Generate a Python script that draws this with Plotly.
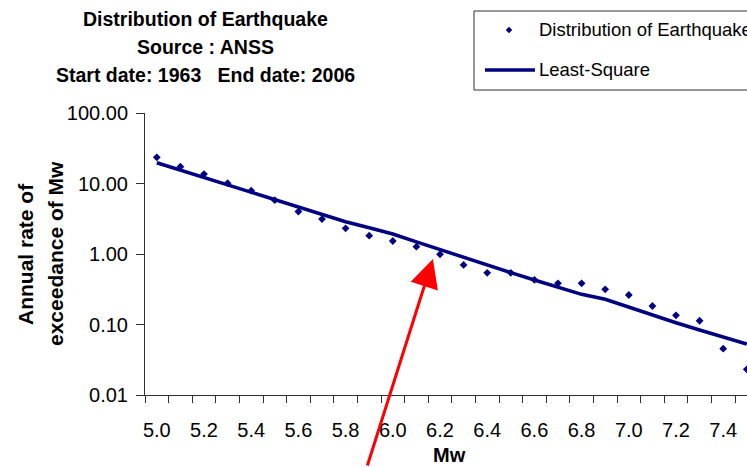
import math
import plotly.graph_objects as go

# ---- data ----
mw = [5.0, 5.1, 5.2, 5.3, 5.4, 5.5, 5.6, 5.7, 5.8, 5.9, 6.0, 6.1, 6.2,
      6.3, 6.4, 6.5, 6.6, 6.7, 6.8, 6.9, 7.0, 7.1, 7.2, 7.3, 7.4, 7.5]
rate_observed = [23.5, 17.3, 13.6, 10.1, 7.9, 5.8, 4.0, 3.13, 2.31, 1.82, 1.53, 1.27, 0.99,
                 0.70, 0.54, 0.54, 0.43, 0.384, 0.384, 0.315, 0.262, 0.183, 0.135, 0.113,
                 0.0454, 0.0231]
rate_least_square = [19.7, 15.5, 12.2, 9.5, 7.5, 5.8, 4.6, 3.65, 2.87, 2.36, 1.92, 1.49, 1.15,
                     0.898, 0.698, 0.543, 0.428, 0.337, 0.268, 0.228, 0.175, 0.136, 0.106,
                     0.0836, 0.0658, 0.0528]
y_tick_values = [0.01, 0.1, 1, 10, 100]
y_tick_labels = ["0.01", "0.10", "1.00", "10.00", "100.00"]
x_tick_values = mw[::2]
x_tick_labels = ["%.1f" % v for v in x_tick_values]
title_lines = ["Distribution of Earthquake", "Source : ANSS", "Start date: 1963   End date: 2006"]
legend_names = ["Distribution of Earthquake", "Least-Square"]
y_title_lines = ["Annual rate of", "exceedance of Mw"]
x_title = "Mw"

# ---- layout geometry (pixels) ----
W, H = 747, 467
L, R, T, B = 145, 747, 113, 395
step = 0.1
xr = [mw[0] - step / 2, mw[0] - step / 2 + (R - L) / 236.0]

def px(x):
    return (x - L) / (R - L)

def py(y):
    return (B - y) / (B - T)

NAVY = "#000080"
FONT = "Liberation Sans, Arial, sans-serif"

fig = go.Figure()
fig.add_trace(go.Scatter(x=mw, y=rate_least_square, mode="lines", name=legend_names[1],
                         line=dict(color=NAVY, width=3.5), showlegend=False))
fig.add_trace(go.Scatter(x=mw, y=rate_observed, mode="markers", name=legend_names[0],
                         marker=dict(symbol="diamond", size=6, color=NAVY), showlegend=False))

minor_vals = [v - step / 2 for v in mw] + [mw[-1] + step / 2]

fig.update_layout(
    width=W, height=H,
    margin=dict(l=L, r=W - R, t=T, b=H - B, autoexpand=False),
    paper_bgcolor="white", plot_bgcolor="white",
    font=dict(family=FONT, color="black", size=20),
    showlegend=False,
    xaxis=dict(range=xr, showgrid=False, zeroline=False, showline=True, linecolor="#303030",
               linewidth=1, tickmode="array", tickvals=x_tick_values, ticktext=x_tick_labels,
               ticks="", tickfont=dict(size=20), ticklabelstandoff=17,
               minor=dict(tickmode="array", tickvals=minor_vals, ticks="outside", ticklen=7,
                          tickcolor="#303030", showgrid=False)),
    yaxis=dict(type="log", range=[-2, 2], showgrid=False, zeroline=False, showline=True,
               linecolor="#303030", linewidth=1, tickmode="array", tickvals=y_tick_values,
               ticktext=y_tick_labels, ticks="outside", ticklen=8, tickcolor="#303030",
               tickfont=dict(size=20), ticklabelstandoff=4),
)

ann = []
# title lines
for txt, yc in zip(title_lines, [19.0, 47.0, 75.0]):
    ann.append(dict(text="<b>%s</b>" % txt, xref="paper", yref="paper", x=px(205), y=py(yc),
                    xanchor="center", yanchor="middle", showarrow=False,
                    font=dict(size=19.5, family=FONT)))
# y-axis title (two rotated lines)
for txt, xc in zip(y_title_lines, [25, 55]):
    ann.append(dict(text="<b>%s</b>" % txt, xref="paper", yref="paper", x=px(xc), y=py(254),
                    xanchor="center", yanchor="middle", textangle=-90, showarrow=False,
                    font=dict(size=21, family=FONT)))
# x-axis title
ann.append(dict(text="<b>%s</b>" % x_title, xref="paper", yref="paper", x=px(449), y=py(455),
                xanchor="center", yanchor="middle", showarrow=False,
                font=dict(size=20, family=FONT)))
# legend texts
for txt, yc in zip(legend_names, [30, 70]):
    ann.append(dict(text=txt, xref="paper", yref="paper", x=px(537), y=py(yc),
                    xanchor="left", yanchor="middle", showarrow=False,
                    font=dict(size=18.5, family=FONT)))
# red arrow
ann.append(dict(text="", x=6.17, y=math.log10(0.85), xref="x", yref="y",
                showarrow=True, arrowhead=2, arrowsize=1.9, arrowwidth=3, arrowcolor="#ff0000",
                ax=-66, ay=222, axref="pixel", ayref="pixel", standoff=0))
fig.update_layout(annotations=ann)

shapes = []
# legend box
shapes.append(dict(type="rect", xref="paper", yref="paper", x0=px(474), x1=px(800),
                   y0=py(90), y1=py(11), line=dict(color="#303030", width=1),
                   fillcolor="white", layer="above"))
# legend line sample
shapes.append(dict(type="line", xref="paper", yref="paper", x0=px(485), x1=px(535),
                   y0=py(70), y1=py(70), line=dict(color=NAVY, width=3.5)))
# legend diamond
cx, cy, r = 509, 30, 3
shapes.append(dict(type="path", xref="paper", yref="paper",
                   path="M %f %f L %f %f L %f %f L %f %f Z" % (
                       px(cx), py(cy - r), px(cx + r), py(cy), px(cx), py(cy + r), px(cx - r), py(cy)),
                   fillcolor=NAVY, line=dict(color=NAVY, width=0.5)))
fig.update_layout(shapes=shapes)

fig.write_html("out.html", config={"displayModeBar": False})

# remove the default page margin so the figure sits at the window's top-left corner
with open("out.html", "r", encoding="utf-8") as f:
    html = f.read()
html = html.replace("<head>", "<head><style>html,body{margin:0;padding:0;overflow:hidden;}</style>", 1)
with open("out.html", "w", encoding="utf-8") as f:
    f.write(html)
